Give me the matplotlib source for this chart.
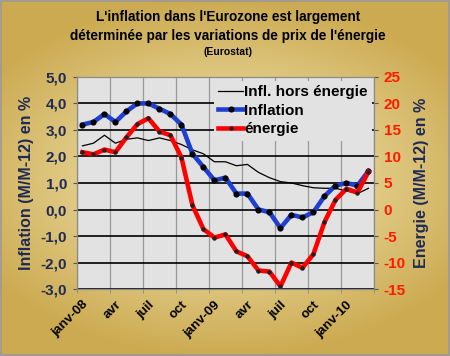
import numpy as np
import matplotlib
matplotlib.use("Agg")
import matplotlib.pyplot as plt
from matplotlib.lines import Line2D

plt.rcParams['font.family'] = ['Liberation Sans', 'DejaVu Sans']
plt.rcParams['font.weight'] = 'bold'
plt.rcParams['axes.labelweight'] = 'bold'

# monthly data, janv-08 .. mars-10
months = ["janv-08", "févr", "mars", "avr", "mai", "juin", "juil", "août", "sept", "oct", "nov", "déc",
          "janv-09", "févr", "mars", "avr", "mai", "juin", "juil", "août", "sept", "oct", "nov", "déc",
          "janv-10", "févr", "mars"]
tick_labels = ["janv-08", "avr", "juil", "oct", "janv-09", "avr", "juil", "oct", "janv-10"]

inflation = [3.2, 3.3, 3.6, 3.3, 3.7, 4.0, 4.0, 3.8, 3.6, 3.2, 2.1, 1.6,
             1.1, 1.2, 0.6, 0.6, 0.0, -0.1, -0.7, -0.2, -0.3, -0.1, 0.5, 0.9,
             1.0, 0.9, 1.45]
hors_energie = [2.4, 2.5, 2.8, 2.5, 2.65, 2.7, 2.6, 2.7, 2.6, 2.45, 2.25, 2.1,
                1.8, 1.8, 1.65, 1.7, 1.4, 1.2, 1.05, 1.0, 0.9, 0.82, 0.8, 0.8,
                0.7, 0.6, 0.8]
energie = [10.8, 10.4, 11.3, 10.8, 13.6, 16.1, 17.2, 14.7, 14.0, 9.8, 0.8, -3.7,
           -5.3, -4.7, -7.9, -8.8, -11.5, -11.7, -14.5, -10.0, -11.0, -8.4, -2.4, 1.8,
           3.9, 3.2, 7.1]

x = np.arange(len(months))

fig = plt.figure(figsize=(4.5, 3.56), dpi=100)

# golden background, lighter in the middle
bg = fig.add_axes([0, 0, 1, 1], zorder=-10)
gy, gx = np.mgrid[-1:1:200j, -1:1:200j]
r = np.clip(np.sqrt((gx * 0.8) ** 2 + (gy * 1.0) ** 2), 0, 1)
c_in = np.array([0.95, 0.90, 0.70])
c_out = np.array([0.80, 0.67, 0.32])
img = c_in + (c_out - c_in) * r[..., None] ** 1.2
bg.imshow(img, aspect='auto', extent=[0, 1, 0, 1])
bg.set_xlim(0, 1)
bg.set_ylim(0, 1)
bg.axis('off')
bg.add_patch(plt.Rectangle((0.002, 0.003), 0.995, 0.993, fill=False, ec='#9a9a9a', lw=1.2))

ax = fig.add_axes([0.171, 0.188, 0.66, 0.596])
ax.set_facecolor('#e2e2e2')
ax2 = ax.twinx()

ax.set_xlim(-0.5, len(months) - 0.5)
ax.set_ylim(-3, 5)
ax2.set_ylim(-15, 25)

yt = np.arange(-3, 6)
ax.set_yticks(yt)
ax.set_yticklabels([f"{v:.1f}".replace('.', ',') for v in yt], color='#1f2a55', fontsize=11)
ax2.set_yticks(np.arange(-15, 30, 5))
ax2.set_yticklabels([str(v) for v in range(-15, 30, 5)], color='#ff1a00', fontsize=11)

ax.set_xticks(x[::3])
ax.set_xticklabels(tick_labels, rotation=45, ha='right', rotation_mode='anchor', fontsize=9.5)
ax.set_xticks(np.arange(-0.5, len(months), 3), minor=True)
ax.tick_params(axis='x', which='major', length=0, pad=7)
ax.tick_params(axis='x', which='minor', length=3, color='#888888')
ax.tick_params(axis='y', length=3, color='#555555', pad=4)
ax2.tick_params(axis='y', length=3, color='#555555', pad=4)

ax.grid(axis='y', color='black', lw=1.2)
ax.grid(axis='x', which='minor', color='#9a9a9a', lw=0.9)
ax.set_axisbelow(True)
for a in (ax, ax2):
    for s in a.spines.values():
        s.set_color('#8a8a8a')
        s.set_linewidth(0.8)

ax.plot(x, hors_energie, color='black', lw=0.9)
ax.plot(x, inflation, color='#1f3fd0', lw=3.3, marker='o', ms=3.4,
        mfc='black', mec='black', solid_joinstyle='round')
ax2.plot(x, energie, color='#ff0000', lw=3.3, marker='o', ms=2.2,
         mfc='#222222', mec='#222222', solid_joinstyle='round')

ax.set_ylabel("Inflation (M/M-12) en %", color='#1f2a55', fontsize=11.5, labelpad=5)
ax2.set_ylabel("Energie (M/M-12) en %", color='#1f2a55', fontsize=11.5, labelpad=6)

handles = [Line2D([], [], color='black', lw=0.9),
           Line2D([], [], color='#1f3fd0', lw=3.3, marker='o', ms=3.4, mfc='black', mec='black'),
           Line2D([], [], color='#ff0000', lw=3.3, marker='o', ms=2.2, mfc='#222222', mec='#222222')]
leg = ax2.legend(handles, ["Infl. hors énergie", "Inflation", "énergie"], loc='upper right',
                 bbox_to_anchor=(1.0, 0.99), fontsize=11, frameon=True, handlelength=1.6,
                 handletextpad=0.1, labelspacing=0.3, borderaxespad=0.1, borderpad=0.3)
leg.get_frame().set_facecolor('#e2e2e2')
leg.get_frame().set_edgecolor('none')
leg.get_frame().set_alpha(1)

fig.text(0.507, 0.952, "L'inflation dans l'Eurozone est largement", ha='center', va='center', fontsize=9.8)
fig.text(0.507, 0.899, "déterminée par les variations de prix de l'énergie", ha='center', va='center', fontsize=9.8)
fig.text(0.507, 0.853, "(Eurostat)", ha='center', va='center', fontsize=7.5)

fig.savefig("out.png", dpi=100)
